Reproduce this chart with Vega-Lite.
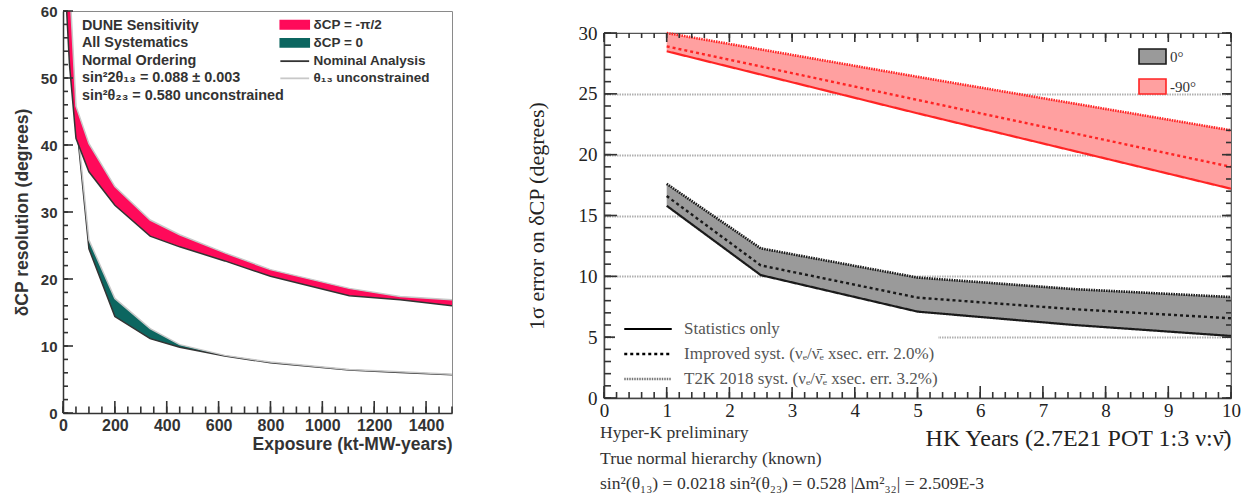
{
  "$schema": "https://vega.github.io/schema/vega-lite/v6.json",
  "background": "white",
  "padding": {"left": 12, "top": 3, "right": 0, "bottom": 0},
  "spacing": 70,
  "config": {
    "view": {"stroke": null},
    "axis": {"labelOverlap": false, "labelFlush": false, "grid": false},
    "legend": {"labelOverlap": false}
  },
  "resolve": {
    "scale": {"fill": "independent", "stroke": "independent", "strokeDash": "independent", "strokeWidth": "independent"},
    "legend": {"fill": "independent", "stroke": "independent", "strokeDash": "independent", "strokeWidth": "independent"}
  },
  "hconcat": [
    {
      "width": 389,
      "height": 402,
      "view": {"stroke": "#8a8a8a", "strokeWidth": 1},
      "data": {
        "values": [
          {"exposure": 10, "band": "z", "nominal": 65.5, "uncon": 67},
          {"exposure": 25, "band": "z", "nominal": 57.5, "uncon": 59},
          {"exposure": 50, "band": "z", "nominal": 44, "uncon": 45},
          {"exposure": 100, "band": "z", "nominal": 24.5, "uncon": 25.8},
          {"exposure": 200, "band": "z", "nominal": 14.4, "uncon": 17.1},
          {"exposure": 336, "band": "z", "nominal": 11.1, "uncon": 12.6},
          {"exposure": 450, "band": "z", "nominal": 9.8, "uncon": 10.2},
          {"exposure": 624, "band": "z", "nominal": 8.5, "uncon": 8.6},
          {"exposure": 800, "band": "z", "nominal": 7.5, "uncon": 7.6},
          {"exposure": 1104, "band": "z", "nominal": 6.4, "uncon": 6.5},
          {"exposure": 1300, "band": "z", "nominal": 6.05, "uncon": 6.15},
          {"exposure": 1500, "band": "z", "nominal": 5.7, "uncon": 5.8},
          {"exposure": 10, "band": "m", "nominal": 63, "uncon": 76},
          {"exposure": 25, "band": "m", "nominal": 52, "uncon": 64.5},
          {"exposure": 50, "band": "m", "nominal": 41, "uncon": 45.8},
          {"exposure": 100, "band": "m", "nominal": 36, "uncon": 40.2},
          {"exposure": 200, "band": "m", "nominal": 31, "uncon": 33.8},
          {"exposure": 336, "band": "m", "nominal": 26.4, "uncon": 28.8},
          {"exposure": 450, "band": "m", "nominal": 24.8, "uncon": 26.6},
          {"exposure": 624, "band": "m", "nominal": 22.7, "uncon": 23.9},
          {"exposure": 800, "band": "m", "nominal": 20.4, "uncon": 21.4},
          {"exposure": 1104, "band": "m", "nominal": 17.5, "uncon": 18.6},
          {"exposure": 1300, "band": "m", "nominal": 16.9, "uncon": 17.4},
          {"exposure": 1500, "band": "m", "nominal": 16.0, "uncon": 16.9}
        ]
      },
      "layer": [
        {
          "transform": [{"filter": "datum.band === 'z'"}],
          "mark": {"type": "area", "clip": true},
          "encoding": {
            "x": {
              "field": "exposure", "type": "quantitative",
              "scale": {"domain": [0, 1500], "nice": false, "zero": false},
              "axis": {
                "orient": "bottom",
                "values": [0, 200, 400, 600, 800, 1000, 1200, 1400],
                "format": "d", "ticks": false,
                "domainColor": "#333", "domainWidth": 1.5,
                "labelPadding": 4,
                "labelFont": "Liberation Sans", "labelFontWeight": "bold", "labelFontSize": 16, "labelColor": "#333",
                "title": "Exposure (kt-MW-years)",
                "titleFont": "Liberation Sans", "titleFontWeight": "bold", "titleFontSize": 17.5, "titleColor": "#333",
                "titleAnchor": "end", "titlePadding": 2
              }
            },
            "y": {
              "field": "nominal", "type": "quantitative",
              "scale": {"domain": [0, 60], "nice": false},
              "axis": {
                "orient": "left",
                "values": [0, 10, 20, 30, 40, 50, 60],
                "ticks": false,
                "domainColor": "#333", "domainWidth": 1.5,
                "labelPadding": 6,
                "labelFont": "Liberation Sans", "labelFontWeight": "bold", "labelFontSize": 15, "labelColor": "#333",
                "title": "δCP resolution (degrees)",
                "titleFont": "Liberation Sans", "titleFontWeight": "bold", "titleFontSize": 17.5, "titleColor": "#333",
                "titlePadding": 9
              }
            },
            "y2": {"field": "uncon"},
            "fill": {
              "field": "band", "type": "nominal",
              "scale": {"domain": ["m", "z", "nominal", "uncon"], "range": ["#ff0a5a", "#0c6660", "transparent", "transparent"]},
              "legend": {
                "orient": "top-right", "offset": 5, "padding": 2,
                "title": " ", "titleOrient": "right", "titlePadding": 16, "titleFontSize": 12,
                "labelExpr": "datum.value === 'm' ? 'δCP = -π/2' : datum.value === 'z' ? 'δCP = 0' : datum.value === 'nominal' ? 'Nominal Analysis' : 'θ₁₃ unconstrained'",
                "labelFont": "Liberation Sans", "labelFontWeight": "bold", "labelFontSize": 13.5, "labelColor": "#333",
                "symbolType": "M-3.6,-1H3.6V1H-3.6Z", "symbolSize": 64, "symbolStrokeWidth": 1.8,
                "rowPadding": 2.2, "labelOffset": 12,
                "encode": {"symbols": {"update": {"shape": {"signal": "datum.value === 'nominal' || datum.value === 'uncon' ? 'M-3.6,0H3.6' : 'M-3.6,-1H3.6V1H-3.6Z'"}}}}
              }
            }
          }
        },
        {
          "transform": [{"filter": "datum.band === 'z'"}, {"fold": ["nominal", "uncon"], "as": ["curve", "res"]}],
          "mark": {"type": "line", "clip": true, "strokeWidth": 1.5},
          "encoding": {
            "x": {"field": "exposure", "type": "quantitative", "scale": {"domain": [0, 1500]}, "axis": null},
            "y": {"field": "res", "type": "quantitative", "scale": {"domain": [0, 60]}, "axis": null},
            "detail": {"field": "band"},
            "stroke": {
              "field": "curve", "type": "nominal",
              "scale": {"domain": ["m", "z", "nominal", "uncon"], "range": ["#ff0a5a", "#0c6660", "#333333", "#c8c8c8"]},
              "legend": {
                "orient": "top-right", "offset": 5, "padding": 2,
                "title": " ", "titleOrient": "right", "titlePadding": 16, "titleFontSize": 12,
                "labelExpr": "datum.value === 'm' ? 'δCP = -π/2' : datum.value === 'z' ? 'δCP = 0' : datum.value === 'nominal' ? 'Nominal Analysis' : 'θ₁₃ unconstrained'",
                "labelFont": "Liberation Sans", "labelFontWeight": "bold", "labelFontSize": 13.5, "labelColor": "#333",
                "symbolType": "M-3.6,-1H3.6V1H-3.6Z", "symbolSize": 64, "symbolStrokeWidth": 1.8,
                "rowPadding": 2.2, "labelOffset": 12,
                "encode": {"symbols": {"update": {"shape": {"signal": "datum.value === 'nominal' || datum.value === 'uncon' ? 'M-3.6,0H3.6' : 'M-3.6,-1H3.6V1H-3.6Z'"}}}}
              }
            }
          }
        },
        {
          "transform": [{"filter": "datum.band === 'm'"}],
          "mark": {"type": "area", "clip": true},
          "encoding": {
            "x": {"field": "exposure", "type": "quantitative", "scale": {"domain": [0, 1500]}, "axis": null},
            "y": {"field": "nominal", "type": "quantitative", "scale": {"domain": [0, 60]}, "axis": null},
            "y2": {"field": "uncon"},
            "fill": {"field": "band", "type": "nominal"}
          }
        },
        {
          "transform": [{"filter": "datum.band === 'm'"}, {"fold": ["nominal", "uncon"], "as": ["curve", "res"]}],
          "mark": {"type": "line", "clip": true, "strokeWidth": 1.5},
          "encoding": {
            "x": {"field": "exposure", "type": "quantitative", "scale": {"domain": [0, 1500]}, "axis": null},
            "y": {"field": "res", "type": "quantitative", "scale": {"domain": [0, 60]}, "axis": null},
            "detail": {"field": "band"},
            "stroke": {"field": "curve", "type": "nominal"}
          }
        },
        {
          "data": {"values": [{"v":0},{"v":50},{"v":100},{"v":150},{"v":200},{"v":250},{"v":300},{"v":350},{"v":400},{"v":450},{"v":500},{"v":550},{"v":600},{"v":650},{"v":700},{"v":750},{"v":800},{"v":850},{"v":900},{"v":950},{"v":1000},{"v":1050},{"v":1100},{"v":1150},{"v":1200},{"v":1250},{"v":1300},{"v":1350},{"v":1400},{"v":1450},{"v":1500}]},
          "mark": {"type": "tick", "orient": "vertical", "color": "#333", "size": 6.5, "thickness": 1.6, "opacity": 1},
          "encoding": {
            "x": {"field": "v", "type": "quantitative", "scale": {"domain": [0, 1500]}, "axis": null},
            "y": {"datum": 0.485, "type": "quantitative", "scale": {"domain": [0, 60]}, "axis": null}
          }
        },
        {
          "data": {"values": [{"v":0},{"v":200},{"v":400},{"v":600},{"v":800},{"v":1000},{"v":1200},{"v":1400}]},
          "mark": {"type": "tick", "orient": "vertical", "color": "#333", "size": 12, "thickness": 1.6, "opacity": 1},
          "encoding": {
            "x": {"field": "v", "type": "quantitative", "scale": {"domain": [0, 1500]}, "axis": null},
            "y": {"datum": 0.896, "type": "quantitative", "scale": {"domain": [0, 60]}, "axis": null}
          }
        },
        {
          "data": {"values": [{"v":0},{"v":2},{"v":4},{"v":6},{"v":8},{"v":10},{"v":12},{"v":14},{"v":16},{"v":18},{"v":20},{"v":22},{"v":24},{"v":26},{"v":28},{"v":30},{"v":32},{"v":34},{"v":36},{"v":38},{"v":40},{"v":42},{"v":44},{"v":46},{"v":48},{"v":50},{"v":52},{"v":54},{"v":56},{"v":58},{"v":60}]},
          "mark": {"type": "tick", "orient": "horizontal", "color": "#333", "size": 5, "thickness": 1.6, "opacity": 1},
          "encoding": {
            "y": {"field": "v", "type": "quantitative", "scale": {"domain": [0, 60]}, "axis": null},
            "x": {"datum": 9.64, "type": "quantitative", "scale": {"domain": [0, 1500]}, "axis": null}
          }
        },
        {
          "data": {"values": [{"v":0},{"v":10},{"v":20},{"v":30},{"v":40},{"v":50},{"v":60}]},
          "mark": {"type": "tick", "orient": "horizontal", "color": "#333", "size": 10, "thickness": 1.6, "opacity": 1},
          "encoding": {
            "y": {"field": "v", "type": "quantitative", "scale": {"domain": [0, 60]}, "axis": null},
            "x": {"datum": 19.3, "type": "quantitative", "scale": {"domain": [0, 1500]}, "axis": null}
          }
        },
        {
          "data": {"values": [{}]},
          "mark": {
            "type": "text", "align": "left", "baseline": "alphabetic",
            "font": "Liberation Sans", "fontWeight": "bold", "fontSize": 14.4, "fill": "#333", "lineHeight": 17.5,
            "text": ["DUNE Sensitivity", "All Systematics", "Normal Ordering", "sin²2θ₁₃ = 0.088 ± 0.003", "sin²θ₂₃ = 0.580 unconstrained"]
          },
          "encoding": {
            "x": {"datum": 73, "type": "quantitative", "scale": {"domain": [0, 1500]}, "axis": null},
            "y": {"datum": 57.2, "type": "quantitative", "scale": {"domain": [0, 60]}, "axis": null}
          }
        }
      ],
      "resolve": {"axis": {"x": "independent", "y": "independent"}}
    },
    {
      "spacing": 11,
      "resolve": {
        "scale": {"fill": "independent", "stroke": "independent", "strokeDash": "independent", "strokeWidth": "independent"},
        "legend": {"fill": "independent", "stroke": "independent", "strokeDash": "independent", "strokeWidth": "independent"}
      },
      "vconcat": [
        {
          "width": 627,
          "height": 1,
          "view": {"stroke": null},
          "data": {"values": []},
          "mark": "point"
        },
        {
          "width": 627,
          "height": 365,
          "view": {"stroke": "#555", "strokeWidth": 1.2},
          "data": {
            "values": [
              {"years": 1, "band": "0°", "stat": 15.8, "impr": 16.6, "t2k": 17.6},
              {"years": 2.5, "band": "0°", "stat": 10.1, "impr": 10.9, "t2k": 12.3},
              {"years": 5, "band": "0°", "stat": 7.1, "impr": 8.25, "t2k": 9.9},
              {"years": 7.5, "band": "0°", "stat": 6.0, "impr": 7.3, "t2k": 8.95},
              {"years": 10, "band": "0°", "stat": 5.1, "impr": 6.55, "t2k": 8.3},
              {"years": 1, "band": "-90°", "stat": 28.5, "impr": 28.9, "t2k": 30.0},
              {"years": 5, "band": "-90°", "stat": 23.4, "impr": 24.5, "t2k": 26.4},
              {"years": 10, "band": "-90°", "stat": 17.2, "impr": 19.0, "t2k": 22.0}
            ]
          },
          "layer": [
            {
              "mark": {"type": "area", "strokeWidth": 0},
              "encoding": {
                "x": {
                  "field": "years", "type": "quantitative",
                  "scale": {"domain": [0, 10], "nice": false, "zero": false},
                  "axis": {
                    "orient": "bottom",
                    "values": [0, 1, 2, 3, 4, 5, 6, 7, 8, 9, 10],
                    "format": "d", "ticks": false,
                    "domainColor": "#444", "domainWidth": 1.5,
                    "labelPadding": 3,
                    "labelFont": "Liberation Serif", "labelFontSize": 19, "labelColor": "#222",
                    "title": "HK Years (2.7E21 POT 1:3 ν:ν̄)",
                    "titleFont": "Liberation Serif", "titleFontWeight": "normal", "titleFontSize": 24, "titleColor": "#222",
                    "titleAnchor": "end", "titlePadding": 6
                  }
                },
                "y": {
                  "field": "stat", "type": "quantitative",
                  "scale": {"domain": [0, 30], "nice": false},
                  "axis": {
                    "orient": "left",
                    "values": [0, 5, 10, 15, 20, 25, 30],
                    "ticks": false,
                    "domainColor": "#444", "domainWidth": 1.5,
                    "labelPadding": 7,
                    "labelFont": "Liberation Serif", "labelFontSize": 19, "labelColor": "#222",
                    "title": "1σ error on δCP (degrees)",
                    "titleFont": "Liberation Serif", "titleFontWeight": "normal", "titleFontSize": 22, "titleColor": "#222",
                    "titlePadding": 30,
                    "grid": true,
                    "gridColor": "#b0b0b0", "gridWidth": 2, "gridDash": [1.5, 1],
                    "gridOpacity": {"condition": {"test": "datum.value > 0 && datum.value < 30", "value": 1}, "value": 0}
                  }
                },
                "y2": {"field": "t2k"},
                "fill": {
                  "field": "band", "type": "nominal",
                  "scale": {"domain": ["0°", "-90°"], "range": ["#9a9a9a", "#ffa0a0"]},
                  "legend": {
                    "orient": "top-right", "offset": 13, "padding": 2,
                    "title": " ", "titleOrient": "right", "titlePadding": 20, "titleFontSize": 15,
                    "labelFont": "Liberation Serif", "labelFontSize": 15, "labelColor": "#333",
                    "symbolType": "M-1.8,-1H1.8V1H-1.8Z", "symbolSize": 225, "symbolStrokeWidth": 1.6,
                    "rowPadding": 7, "labelOffset": 9
                  }
                },
                "stroke": {
                  "field": "band", "type": "nominal",
                  "scale": {"domain": ["0°", "-90°"], "range": ["#1a1a1a", "#ff2424"]}
                }
              }
            },
            {
              "transform": [{"fold": ["stat", "impr", "t2k"], "as": ["syst", "err"]}],
              "mark": {"type": "line"},
              "encoding": {
                "x": {"field": "years", "type": "quantitative", "scale": {"domain": [0, 10]}, "axis": null},
                "y": {"field": "err", "type": "quantitative", "scale": {"domain": [0, 30]}, "axis": null},
                "detail": {"field": "band"},
                "stroke": {"field": "band", "type": "nominal"},
                "strokeDash": {
                  "field": "syst", "type": "nominal",
                  "scale": {"domain": ["stat", "impr", "t2k"], "range": [[1, 0], [3, 3], [1.5, 1]]},
                  "legend": {
                    "orient": "bottom-left", "offset": 11, "padding": 0,
                    "title": " ", "titleOrient": "left", "titlePadding": 22, "titleFontSize": 16,
                    "fillColor": "white",
                    "labelExpr": "datum.value === 'stat' ? 'Statistics only' : datum.value === 'impr' ? 'Improved syst. (νₑ/ν̄ₑ xsec. err. 2.0%)' : 'T2K 2018 syst. (νₑ/ν̄ₑ xsec. err. 3.2%)'",
                    "labelFont": "Liberation Serif", "labelFontSize": 17, "labelColor": "#555", "labelLimit": 400,
                    "symbolType": "M-2.5,0H2.5", "symbolSize": 361, "symbolStrokeColor": "#000",
                    "rowPadding": 6, "labelOffset": 25,
                    "encode": {"symbols": {"update": {"stroke": {"signal": "datum.value === 't2k' ? '#777' : '#000'"}}}}
                  }
                },
                "strokeWidth": {
                  "field": "syst", "type": "nominal",
                  "scale": {"domain": ["stat", "impr", "t2k"], "range": [2.2, 2.6, 1.8]}
                }
              }
            },
            {
              "data": {"values": [{"v":0},{"v":0.2},{"v":0.4},{"v":0.6},{"v":0.8},{"v":1},{"v":1.2},{"v":1.4},{"v":1.6},{"v":1.8},{"v":2},{"v":2.2},{"v":2.4},{"v":2.6},{"v":2.8},{"v":3},{"v":3.2},{"v":3.4},{"v":3.6},{"v":3.8},{"v":4},{"v":4.2},{"v":4.4},{"v":4.6},{"v":4.8},{"v":5},{"v":5.2},{"v":5.4},{"v":5.6},{"v":5.8},{"v":6},{"v":6.2},{"v":6.4},{"v":6.6},{"v":6.8},{"v":7},{"v":7.2},{"v":7.4},{"v":7.6},{"v":7.8},{"v":8},{"v":8.2},{"v":8.4},{"v":8.6},{"v":8.8},{"v":9},{"v":9.2},{"v":9.4},{"v":9.6},{"v":9.8},{"v":10}]},
              "mark": {"type": "tick", "orient": "vertical", "color": "#333", "size": 6, "thickness": 1.6, "opacity": 1},
              "encoding": {
                "x": {"field": "v", "type": "quantitative", "scale": {"domain": [0, 10]}, "axis": null},
                "y": {"datum": 0.2465, "type": "quantitative", "scale": {"domain": [0, 30]}, "axis": null}
              }
            },
            {
              "data": {"values": [{"v":0},{"v":1},{"v":2},{"v":3},{"v":4},{"v":5},{"v":6},{"v":7},{"v":8},{"v":9},{"v":10}]},
              "mark": {"type": "tick", "orient": "vertical", "color": "#333", "size": 12, "thickness": 1.6, "opacity": 1},
              "encoding": {
                "x": {"field": "v", "type": "quantitative", "scale": {"domain": [0, 10]}, "axis": null},
                "y": {"datum": 0.493, "type": "quantitative", "scale": {"domain": [0, 30]}, "axis": null}
              }
            },
            {
              "data": {"values": [{"v":0},{"v":0.2},{"v":0.4},{"v":0.6},{"v":0.8},{"v":1},{"v":1.2},{"v":1.4},{"v":1.6},{"v":1.8},{"v":2},{"v":2.2},{"v":2.4},{"v":2.6},{"v":2.8},{"v":3},{"v":3.2},{"v":3.4},{"v":3.6},{"v":3.8},{"v":4},{"v":4.2},{"v":4.4},{"v":4.6},{"v":4.8},{"v":5},{"v":5.2},{"v":5.4},{"v":5.6},{"v":5.8},{"v":6},{"v":6.2},{"v":6.4},{"v":6.6},{"v":6.8},{"v":7},{"v":7.2},{"v":7.4},{"v":7.6},{"v":7.8},{"v":8},{"v":8.2},{"v":8.4},{"v":8.6},{"v":8.8},{"v":9},{"v":9.2},{"v":9.4},{"v":9.6},{"v":9.8},{"v":10}]},
              "mark": {"type": "tick", "orient": "vertical", "color": "#333", "size": 5, "thickness": 1.6, "opacity": 1},
              "encoding": {
                "x": {"field": "v", "type": "quantitative", "scale": {"domain": [0, 10]}, "axis": null},
                "y": {"datum": 29.795, "type": "quantitative", "scale": {"domain": [0, 30]}, "axis": null}
              }
            },
            {
              "data": {"values": [{"v":0},{"v":1},{"v":2},{"v":3},{"v":4},{"v":5},{"v":6},{"v":7},{"v":8},{"v":9},{"v":10}]},
              "mark": {"type": "tick", "orient": "vertical", "color": "#333", "size": 9, "thickness": 1.6, "opacity": 1},
              "encoding": {
                "x": {"field": "v", "type": "quantitative", "scale": {"domain": [0, 10]}, "axis": null},
                "y": {"datum": 29.63, "type": "quantitative", "scale": {"domain": [0, 30]}, "axis": null}
              }
            },
            {
              "data": {"values": [{"v":0},{"v":1},{"v":2},{"v":3},{"v":4},{"v":5},{"v":6},{"v":7},{"v":8},{"v":9},{"v":10},{"v":11},{"v":12},{"v":13},{"v":14},{"v":15},{"v":16},{"v":17},{"v":18},{"v":19},{"v":20},{"v":21},{"v":22},{"v":23},{"v":24},{"v":25},{"v":26},{"v":27},{"v":28},{"v":29},{"v":30}]},
              "mark": {"type": "tick", "orient": "horizontal", "color": "#333", "size": 7, "thickness": 1.6, "opacity": 1},
              "encoding": {
                "y": {"field": "v", "type": "quantitative", "scale": {"domain": [0, 30]}, "axis": null},
                "x": {"datum": 0.0558, "type": "quantitative", "scale": {"domain": [0, 10]}, "axis": null}
              }
            },
            {
              "data": {"values": [{"v":0},{"v":5},{"v":10},{"v":15},{"v":20},{"v":25},{"v":30}]},
              "mark": {"type": "tick", "orient": "horizontal", "color": "#333", "size": 13, "thickness": 1.6, "opacity": 1},
              "encoding": {
                "y": {"field": "v", "type": "quantitative", "scale": {"domain": [0, 30]}, "axis": null},
                "x": {"datum": 0.1037, "type": "quantitative", "scale": {"domain": [0, 10]}, "axis": null}
              }
            },
            {
              "data": {"values": [{"v":0},{"v":1},{"v":2},{"v":3},{"v":4},{"v":5},{"v":6},{"v":7},{"v":8},{"v":9},{"v":10},{"v":11},{"v":12},{"v":13},{"v":14},{"v":15},{"v":16},{"v":17},{"v":18},{"v":19},{"v":20},{"v":21},{"v":22},{"v":23},{"v":24},{"v":25},{"v":26},{"v":27},{"v":28},{"v":29},{"v":30}]},
              "mark": {"type": "tick", "orient": "horizontal", "color": "#333", "size": 5, "thickness": 1.6, "opacity": 1},
              "encoding": {
                "y": {"field": "v", "type": "quantitative", "scale": {"domain": [0, 30]}, "axis": null},
                "x": {"datum": 9.96, "type": "quantitative", "scale": {"domain": [0, 10]}, "axis": null}
              }
            },
            {
              "data": {"values": [{"v":0},{"v":5},{"v":10},{"v":15},{"v":20},{"v":25},{"v":30}]},
              "mark": {"type": "tick", "orient": "horizontal", "color": "#333", "size": 9, "thickness": 1.6, "opacity": 1},
              "encoding": {
                "y": {"field": "v", "type": "quantitative", "scale": {"domain": [0, 30]}, "axis": null},
                "x": {"datum": 9.928, "type": "quantitative", "scale": {"domain": [0, 10]}, "axis": null}
              }
            },
            {
              "data": {"values": [{}]},
              "mark": {
                "type": "text", "align": "left", "baseline": "alphabetic", "dx": -4,
                "font": "Liberation Serif", "fontSize": 17.6, "fill": "#333", "lineHeight": 25.5,
                "text": ["Hyper-K preliminary", "True normal hierarchy (known)", "sin²(θ₁₃) = 0.0218  sin²(θ₂₃) = 0.528  |Δm²₃₂| = 2.509E-3"]
              },
              "encoding": {
                "x": {"datum": 0, "type": "quantitative", "scale": {"domain": [0, 10]}, "axis": null},
                "y": {"datum": -3.3, "type": "quantitative", "scale": {"domain": [0, 30]}, "axis": null}
              }
            }
          ],
          "resolve": {"axis": {"x": "independent", "y": "independent"}}
        }
      ]
    }
  ]
}
